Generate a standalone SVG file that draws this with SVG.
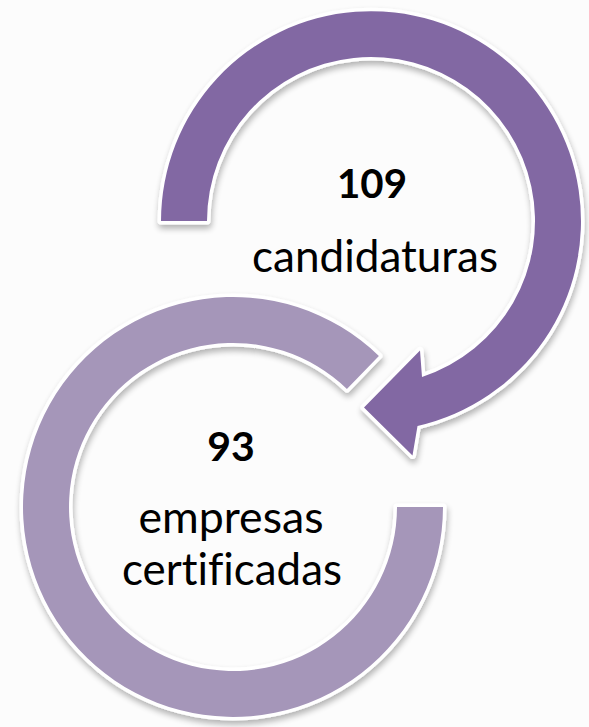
<svg xmlns="http://www.w3.org/2000/svg" width="589" height="727" viewBox="0 0 589 727">
  <style>
    .ring { stroke: #FFFFFF; stroke-width: 7; stroke-linejoin: round; paint-order: stroke; }
    .dark { fill: #8268A3; }
    .light { fill: #A596B9; }
    text { font-variant-ligatures: none; font-feature-settings: "liga" 0, "clig" 0; }
    .num { font-family: Lato, "Open Sans", "Liberation Sans", sans-serif; font-weight: 700; font-size: 41px; fill: #000000; text-anchor: middle; }
    .lbl { font-family: Lato, "Open Sans", "Liberation Sans", sans-serif; font-weight: 400; font-size: 44px; fill: #000000; text-anchor: middle; }
  </style>
  <defs>
    <filter id="shadow" x="-10%" y="-10%" width="125%" height="130%">
      <feGaussianBlur in="SourceAlpha" stdDeviation="3"/>
      <feOffset dx="1" dy="4" result="off"/>
      <feComponentTransfer>
        <feFuncA type="linear" slope="0.3"/>
      </feComponentTransfer>
      <feMerge>
        <feMergeNode/>
        <feMergeNode in="SourceGraphic"/>
      </feMerge>
    </filter>
  </defs>
  <rect x="0" y="0" width="589" height="727" fill="#FCFCFC"/>

  <g id="node-empresas">
    <path class="ring light" filter="url(#shadow)" d="M 443 507 A 210 210 0 1 1 378.9 355.9 L 346.9 389 A 164 164 0 1 0 397 507 Z"/>
    <text class="num" x="231" y="461">93</text>
    <text class="lbl" x="231" y="533" textLength="185" lengthAdjust="spacingAndGlyphs">empresas</text>
    <text class="lbl" x="232" y="585" textLength="220" lengthAdjust="spacingAndGlyphs">certificadas</text>
  </g>

  <g id="node-candidaturas">
    <path class="ring dark" filter="url(#shadow)" d="M 161 221 A 210 210 0 1 1 417.5 426 L 412.5 455.5 L 364 407.5 L 420 350.5 L 422 376.9 A 164 164 0 1 0 207 221 Z"/>
    <text class="num" x="372" y="198" textLength="70" lengthAdjust="spacingAndGlyphs">109</text>
    <text class="lbl" x="375" y="272" textLength="246" lengthAdjust="spacingAndGlyphs">candidaturas</text>
  </g>

  <g id="connectors"/>
</svg>
